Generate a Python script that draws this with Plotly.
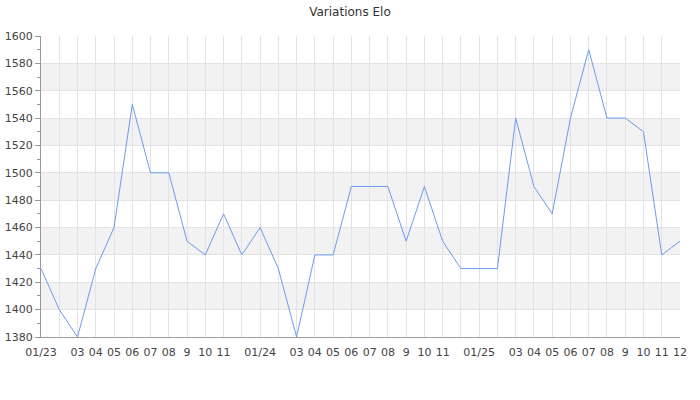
import plotly.graph_objects as go

months = [f"{y}-{m:02d}" for y in (2023, 2024, 2025) for m in range(1, 13)]
elo = [1430, 1400, 1380, 1430, 1460, 1550, 1500, 1500, 1450, 1440, 1470, 1440,
       1460, 1430, 1380, 1440, 1440, 1490, 1490, 1490, 1450, 1490, 1450, 1430,
       1430, 1430, 1540, 1490, 1470, 1540, 1590, 1540, 1540, 1530, 1440, 1450]
tick_labels = ["01/23", "", "03", "04", "05", "06", "07", "08", "9", "10", "11", "",
               "01/24", "", "03", "04", "05", "06", "07", "08", "9", "10", "11", "",
               "01/25", "", "03", "04", "05", "06", "07", "08", "9", "10", "11", "12"]
band_starts = [1400, 1440, 1480, 1520, 1560]

fig = go.Figure()
fig.add_trace(go.Scatter(x=months, y=elo, mode="lines",
                         line=dict(color="#6d9bee", width=1), hoverinfo="x+y"))

shapes = [dict(type="rect", xref="paper", yref="y", x0=0, x1=1, y0=b, y1=b + 20,
               fillcolor="#f2f2f2", line=dict(width=0), layer="below") for b in band_starts]

fig.update_layout(
    width=700, height=400,
    margin=dict(l=41, r=20, t=36, b=63, autoexpand=False),
    paper_bgcolor="white", plot_bgcolor="white",
    font=dict(family="DejaVu Sans", size=11, color="#444"),
    title=dict(text="Variations Elo", x=0.5, xanchor="center", xref="container",
               yref="container", y=1 - 12 / 400, yanchor="middle", automargin=False,
               font=dict(size=12, color="#333")),
    showlegend=False,
    shapes=shapes,
    xaxis=dict(type="category", categoryorder="array", categoryarray=months,
               range=[0, len(months) - 1], tickmode="array", tickvals=months,
               ticktext=tick_labels, showgrid=True, gridcolor="#e3e3e3", gridwidth=1,
               showline=True, linecolor="#999", linewidth=1, ticks="", ticklen=0,
               ticklabelstandoff=5, automargin=False,
               tickangle=0, zeroline=False, tickfont=dict(size=11, color="#444")),
    yaxis=dict(range=[1380, 1600], dtick=20, tick0=1380, showgrid=True,
               gridcolor="#e3e3e3", gridwidth=1, showline=True, linecolor="#999",
               linewidth=1, ticks="outside", ticklen=5, tickcolor="#999",
               minor=dict(dtick=10, tick0=1380, ticks="outside", ticklen=3,
                          tickcolor="#999", showgrid=False),
               automargin=False,
               zeroline=False, tickfont=dict(size=11, color="#444")),
)
fig.write_html("out.html", config={"displayModeBar": False},
               post_script="document.body.style.margin='0';")
